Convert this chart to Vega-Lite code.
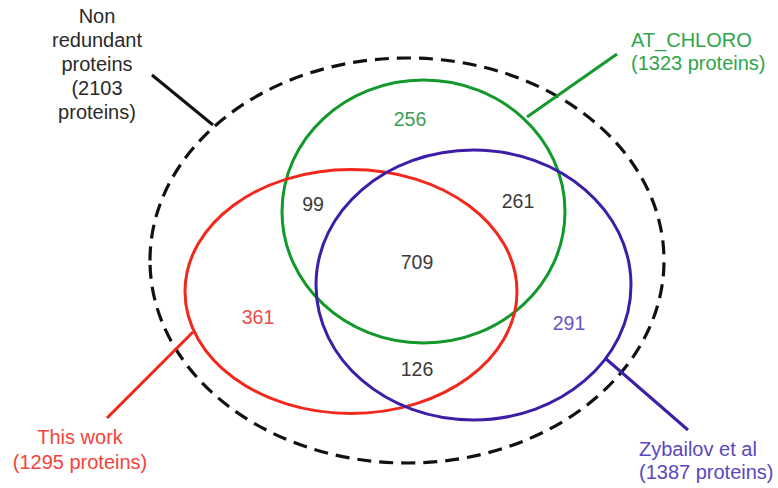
{
  "$schema": "https://vega.github.io/schema/vega-lite/v6.json",
  "width": 778,
  "height": 488,
  "padding": 0,
  "autosize": {"type": "none"},
  "background": "white",
  "config": {"view": {"stroke": null}},
  "datasets": {
    "sets": [
      {"set": "All", "cx": 407, "cy": 260.5},
      {"set": "AT_CHLORO", "cx": 423.5, "cy": 211.5},
      {"set": "This work", "cx": 351, "cy": 291.5},
      {"set": "Zybailov", "cx": 473.5, "cy": 285}
    ],
    "leaders": [
      {"set": "All", "x1": 152, "y1": 75, "x2": 213, "y2": 125},
      {"set": "AT_CHLORO", "x1": 527, "y1": 117, "x2": 617, "y2": 54},
      {"set": "This work", "x1": 193, "y1": 332, "x2": 107, "y2": 418},
      {"set": "Zybailov", "x1": 605, "y1": 358, "x2": 688, "y2": 430}
    ],
    "labels": [
      {"set": "All", "x": 97, "y": 17, "label": "Non\nredundant\nproteins\n(2103\nproteins)"},
      {"set": "This work", "x": 80, "y": 438, "label": "This work\n(1295 proteins)"},
      {"set": "AT_CHLORO", "x": 631, "y": 41, "label": "AT_CHLORO\n(1323 proteins)"},
      {"set": "Zybailov", "x": 639, "y": 450, "label": "Zybailov et al\n(1387 proteins)"}
    ],
    "counts": [
      {"set": "AT_CHLORO", "x": 410, "y": 120, "n": 256},
      {"set": "shared", "x": 313, "y": 205, "n": 99},
      {"set": "shared", "x": 518, "y": 202, "n": 261},
      {"set": "shared", "x": 417, "y": 263, "n": 709},
      {"set": "This work", "x": 258, "y": 318, "n": 361},
      {"set": "Zybailov", "x": 569, "y": 324, "n": 291},
      {"set": "shared", "x": 417, "y": 370, "n": 126}
    ]
  },
  "layer": [
    {
      "data": {"name": "sets"},
      "transform": [{"filter": "datum.set === 'All'"}],
      "mark": {"type": "point", "shape": "M-1,0A1,0.788,0,1,1,1,0A1,0.788,0,1,1,-1,0Z", "filled": false, "stroke": "#111111", "strokeWidth": 3.2, "strokeDash": [14, 8], "opacity": 1},
      "encoding": {
        "x": {"field": "cx", "type": "quantitative", "scale": {"domain": [0, 778], "nice": false, "zero": false}, "axis": null},
        "y": {"field": "cy", "type": "quantitative", "scale": {"domain": [0, 488], "nice": false, "zero": false, "reverse": true}, "axis": null},
        "size": {"value": 264196}
      }
    },
    {
      "data": {"name": "sets"},
      "transform": [{"filter": "datum.set === 'AT_CHLORO'"}],
      "mark": {"type": "point", "shape": "M-1,0A1,0.929,0,1,1,1,0A1,0.929,0,1,1,-1,0Z", "filled": false, "stroke": "#13992b", "strokeWidth": 3, "opacity": 1},
      "encoding": {
        "x": {"field": "cx", "type": "quantitative"},
        "y": {"field": "cy", "type": "quantitative"},
        "size": {"value": 80089}
      }
    },
    {
      "data": {"name": "sets"},
      "transform": [{"filter": "datum.set === 'This work'"}],
      "mark": {"type": "point", "shape": "M-1,0A1,0.735,0,1,1,1,0A1,0.735,0,1,1,-1,0Z", "filled": false, "stroke": "#f2281c", "strokeWidth": 3, "opacity": 1},
      "encoding": {
        "x": {"field": "cx", "type": "quantitative"},
        "y": {"field": "cy", "type": "quantitative"},
        "size": {"value": 110224}
      }
    },
    {
      "data": {"name": "sets"},
      "transform": [{"filter": "datum.set === 'Zybailov'"}],
      "mark": {"type": "point", "shape": "M-1,0A1,0.857,0,1,1,1,0A1,0.857,0,1,1,-1,0Z", "filled": false, "stroke": "#3d1ea6", "strokeWidth": 3, "opacity": 1},
      "encoding": {
        "x": {"field": "cx", "type": "quantitative"},
        "y": {"field": "cy", "type": "quantitative"},
        "size": {"value": 99225}
      }
    },
    {
      "data": {"name": "leaders"},
      "mark": {"type": "rule", "strokeWidth": 3},
      "encoding": {
        "x": {"field": "x1", "type": "quantitative"},
        "y": {"field": "y1", "type": "quantitative"},
        "x2": {"field": "x2"},
        "y2": {"field": "y2"},
        "color": {"field": "set", "type": "nominal", "legend": null,
          "scale": {"domain": ["All", "AT_CHLORO", "This work", "Zybailov"], "range": ["#111111", "#13992b", "#f2281c", "#3d1ea6"]}}
      }
    },
    {
      "data": {"name": "labels"},
      "transform": [{"filter": "datum.set === 'All'"}],
      "mark": {"type": "text", "align": "center", "baseline": "middle", "font": "Liberation Sans", "fontSize": 20, "lineBreak": "\n", "lineHeight": 24},
      "encoding": {
        "x": {"field": "x", "type": "quantitative"},
        "y": {"field": "y", "type": "quantitative"},
        "text": {"field": "label"},
        "color": {"field": "set", "type": "nominal", "legend": null,
          "scale": {"domain": ["All", "AT_CHLORO", "This work", "Zybailov", "shared"], "range": ["#2a2a2a", "#2fa54a", "#f2433a", "#5a48bf", "#3a3a3a"]}}
      }
    },
    {
      "data": {"name": "labels"},
      "transform": [{"filter": "datum.set === 'This work'"}],
      "mark": {"type": "text", "align": "center", "baseline": "middle", "font": "Liberation Sans", "fontSize": 20, "lineBreak": "\n", "lineHeight": 25},
      "encoding": {
        "x": {"field": "x", "type": "quantitative"},
        "y": {"field": "y", "type": "quantitative"},
        "text": {"field": "label"},
        "color": {"field": "set", "type": "nominal", "legend": null,
          "scale": {"domain": ["All", "AT_CHLORO", "This work", "Zybailov", "shared"], "range": ["#2a2a2a", "#2fa54a", "#f2433a", "#5a48bf", "#3a3a3a"]}}
      }
    },
    {
      "data": {"name": "labels"},
      "transform": [{"filter": "datum.set === 'AT_CHLORO' || datum.set === 'Zybailov'"}],
      "mark": {"type": "text", "align": "left", "baseline": "middle", "font": "Liberation Sans", "fontSize": 20, "lineBreak": "\n", "lineHeight": 22.5},
      "encoding": {
        "x": {"field": "x", "type": "quantitative"},
        "y": {"field": "y", "type": "quantitative"},
        "text": {"field": "label"},
        "color": {"field": "set", "type": "nominal", "legend": null,
          "scale": {"domain": ["All", "AT_CHLORO", "This work", "Zybailov", "shared"], "range": ["#2a2a2a", "#2fa54a", "#f2433a", "#5a48bf", "#3a3a3a"]}}
      }
    },
    {
      "data": {"name": "counts"},
      "mark": {"type": "text", "align": "center", "baseline": "middle", "font": "Liberation Sans", "fontSize": 19.5},
      "encoding": {
        "x": {"field": "x", "type": "quantitative"},
        "y": {"field": "y", "type": "quantitative"},
        "text": {"field": "n", "type": "quantitative"},
        "color": {"field": "set", "type": "nominal", "legend": null,
          "scale": {"domain": ["All", "AT_CHLORO", "This work", "Zybailov", "shared"], "range": ["#2a2a2a", "#3a9d55", "#f04a45", "#6555c4", "#3a3a3a"]}}
      }
    }
  ],
  "resolve": {"scale": {"color": "independent"}}
}
